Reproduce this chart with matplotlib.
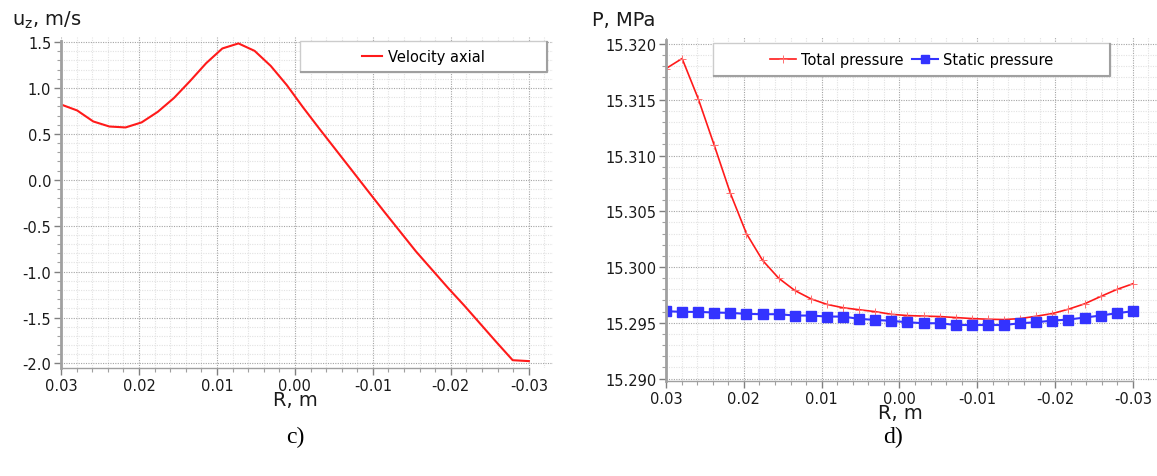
import matplotlib
matplotlib.use('Agg')
import matplotlib.pyplot as plt
from matplotlib.ticker import FixedLocator, FixedFormatter, MultipleLocator
from matplotlib.patches import Rectangle
from matplotlib.lines import Line2D

# ---------------- data ----------------
R = [0.03, 0.02793, 0.02586, 0.02379, 0.02172, 0.01966, 0.01759, 0.01552,
     0.01345, 0.01138, 0.00931, 0.00724, 0.00517, 0.00310, 0.00103,
     -0.00103, -0.00310, -0.00517, -0.00724, -0.00931, -0.01138, -0.01345,
     -0.01552, -0.01759, -0.01966, -0.02172, -0.02379, -0.02586, -0.02793, -0.03]

velocity_axial = [0.82, 0.755, 0.635, 0.58, 0.57, 0.625, 0.74, 0.89, 1.075, 1.27,
                  1.43, 1.485, 1.404, 1.24, 1.03, 0.79, 0.56, 0.335, 0.11, -0.116,
                  -0.34, -0.56, -0.78, -0.98, -1.18, -1.37, -1.57, -1.77, -1.965, -1.975]

total_pressure = [15.3178, 15.3187, 15.3151, 15.3109, 15.3066, 15.3030, 15.3006,
                  15.2990, 15.2979, 15.29715, 15.29665, 15.29635, 15.29617,
                  15.29600, 15.29576, 15.29565, 15.29560, 15.29556, 15.29547,
                  15.29538, 15.29532, 15.29529, 15.29538, 15.29559, 15.29583,
                  15.29622, 15.29670, 15.29736, 15.29799, 15.29850]

static_pressure = [15.29604, 15.29598, 15.29598, 15.29592, 15.29589, 15.29580,
                   15.29577, 15.29577, 15.29565, 15.29565, 15.29556, 15.29556,
                   15.29535, 15.29526, 15.29517, 15.29505, 15.29496, 15.29496,
                   15.29480, 15.29480, 15.29480, 15.29480, 15.29496, 15.29505,
                   15.29520, 15.29529, 15.29547, 15.29565, 15.29586, 15.29604]

x_ticks = [0.03, 0.02, 0.01, 0.0, -0.01, -0.02, -0.03]
x_tick_labels = ['0.03', '0.02', '0.01', '0.00', '-0.01', '-0.02', '-0.03']
uz_ticks = [1.5, 1.0, 0.5, 0.0, -0.5, -1.0, -1.5, -2.0]
uz_tick_labels = ['1.5', '1.0', '0.5', '0.0', '-0.5', '-1.0', '-1.5', '-2.0']
p_ticks = [15.320, 15.315, 15.310, 15.305, 15.300, 15.295, 15.290]
p_tick_labels = ['15.320', '15.315', '15.310', '15.305', '15.300', '15.295', '15.290']

legend_c = ['Velocity axial']
legend_d = ['Total pressure', 'Static pressure']

# ---------------- figure ----------------
W, H = 1157, 477
fig = plt.figure(figsize=(W / 100, H / 100), dpi=100)
plt.rcParams['font.family'] = ['DejaVu Sans']


def fx(px):
    return px / W


def fy(py):
    return 1 - py / H


ax1 = fig.add_axes([fx(61), fy(369), fx(553 - 61), (369 - 38) / H])
ax2 = fig.add_axes([fx(666), fy(382), fx(1157 - 666), (382 - 38) / H])

SPINE = '#a0a0a0'


def style(ax, yticks, ylabels, ylim, ytop_bound, yminor):
    ax.set_xlim(0.03, -0.0331)
    ax.set_ylim(*ylim)
    ax.xaxis.set_major_locator(FixedLocator(x_ticks))
    ax.xaxis.set_major_formatter(FixedFormatter(x_tick_labels))
    ax.xaxis.set_minor_locator(MultipleLocator(0.002))
    ax.yaxis.set_major_locator(FixedLocator(yticks))
    ax.yaxis.set_major_formatter(FixedFormatter(ylabels))
    ax.yaxis.set_minor_locator(MultipleLocator(yminor))
    ax.grid(which='major', color='#a4a4a4', linestyle=(0, (1, 1.2)), linewidth=0.8)
    ax.grid(which='minor', color='#e2e2e2', linestyle=(0, (1, 1.2)), linewidth=0.8)
    ax.set_axisbelow(True)
    for s in ('top', 'right'):
        ax.spines[s].set_visible(False)
    ax.spines['left'].set_color(SPINE)
    ax.spines['left'].set_linewidth(2)
    ax.spines['bottom'].set_color(SPINE)
    ax.spines['bottom'].set_linewidth(1)
    ax.spines['bottom'].set_bounds(0.03, -0.03)
    ax.spines['left'].set_bounds(ylim[0], ytop_bound)
    ax.tick_params(which='major', length=5, width=1, color='#808080',
                   labelsize=10.5, labelcolor='#1a1a1a', pad=2)
    ax.tick_params(which='minor', length=3, width=0.8, color='#a0a0a0')


# ---- chart c ----
ax1.plot(R, velocity_axial, color='#ff1a1a', linewidth=1.5)
style(ax1, uz_ticks, uz_tick_labels, (-2.05, 1.555), 1.51, 0.1)

# ---- chart d ----
ax2.plot(R, total_pressure, color='#ff1a1a', linewidth=1.2, marker='+',
         markersize=6, markeredgewidth=0.7, markeredgecolor='#ff7070')
ax2.plot(R, static_pressure, color='#3333ff', linewidth=1.5, marker='s',
         markersize=6.5, markerfacecolor='#3333ff', markeredgecolor='#3333ff')
style(ax2, p_ticks, p_tick_labels, (15.28978, 15.32063), 15.3204, 0.001)

# hide minor tick marks beyond the end of the x spine
fig.canvas.draw()
for ax in (ax1, ax2):
    for t in ax.xaxis.get_minor_ticks():
        if t.get_loc() < -0.0305:
            t.tick1line.set_visible(False)


# ---- legend boxes ----
def legend_box(x0, y0, x1, y1):
    fig.add_artist(Rectangle((fx(x0), fy(y1)), fx(x1 - x0), (y1 - y0) / H,
                             transform=fig.transFigure, facecolor='white',
                             edgecolor='#cccccc', linewidth=1, zorder=3))
    fig.add_artist(Line2D([fx(x0 + 1), fx(x1), fx(x1)], [fy(y1), fy(y1), fy(y0 + 1)],
                          transform=fig.transFigure, color='#a0a0a0',
                          linewidth=1.5, zorder=3.5))


legend_box(300, 42, 547, 73)
h1 = [Line2D([], [], color='#ff1a1a', linewidth=1.5)]
fig.legend(h1, legend_c, loc='center', bbox_to_anchor=(fx(423.5), fy(57.5)),
           bbox_transform=fig.transFigure, frameon=False, fontsize=10.5,
           handlelength=1.4, handletextpad=0.4)

legend_box(713, 44, 1110, 77)
h2 = [Line2D([], [], color='#ff1a1a', linewidth=1.2, marker='+', markersize=6,
             markeredgewidth=0.7, markeredgecolor='#ff7070'),
      Line2D([], [], color='#3333ff', linewidth=1.5, marker='s', markersize=6)]
fig.legend(h2, legend_d, loc='center', bbox_to_anchor=(fx(911.5), fy(60.5)),
           bbox_transform=fig.transFigure, frameon=False, fontsize=10.5, ncol=2,
           handlelength=1.8, handletextpad=0.3, columnspacing=0.6)

# ---- axis titles ----
fig.text(fx(12), fy(20), r'u$_\mathregular{z}$, m/s', fontsize=14, ha='left',
         va='center', color='#1a1a1a')
fig.text(fx(592), fy(20), 'P, MPa', fontsize=14, ha='left', va='center',
         color='#1a1a1a')
fig.text(fx(295), fy(401), 'R, m', fontsize=14, ha='center', va='center',
         color='#1a1a1a')
fig.text(fx(900), fy(414), 'R, m', fontsize=14, ha='center', va='center',
         color='#1a1a1a')

# ---- captions ----
fig.text(fx(295), fy(437), 'c)', family='Liberation Serif', fontsize=17,
         ha='center', va='center')
fig.text(fx(893), fy(437), 'd)', family='Liberation Serif', fontsize=17,
         ha='center', va='center')

fig.savefig('out.png', dpi=100)
